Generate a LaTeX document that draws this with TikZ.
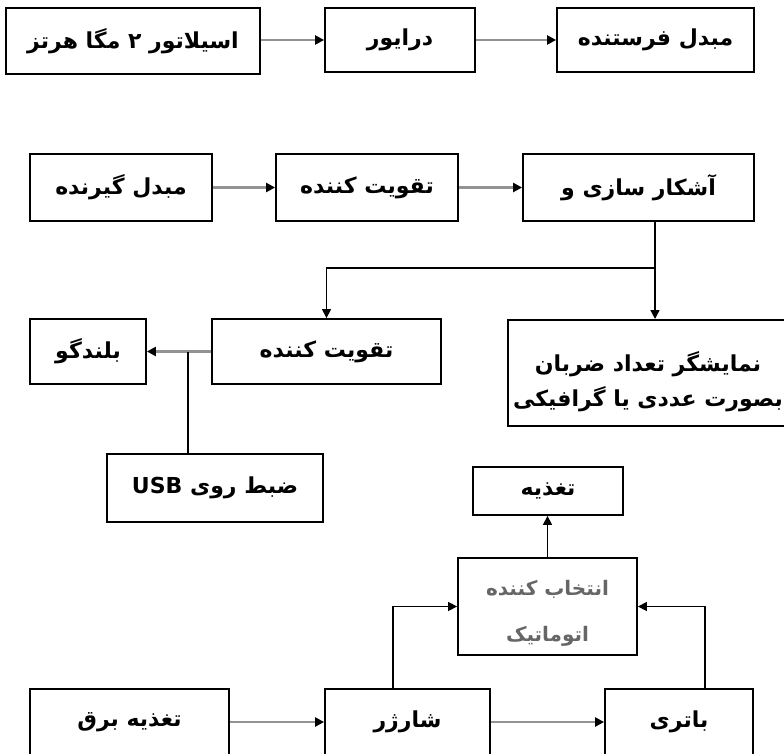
\documentclass[tikz,border=0pt]{standalone}
\usepackage{fontspec}
\usetikzlibrary{arrows.meta,calc}
\TeXXeTstate=1
\newfontfamily\fa[Script=Arabic]{DejaVu Sans}
\tikzset{
  box/.style={draw, line width=1.8pt, inner sep=0pt, font=\fa\bfseries\fontsize{22}{26}\selectfont},
  garr/.style={draw=gray!85, line width=2.6pt, -{Triangle[length=9pt,width=9pt,color=black]}},
  barr/.style={line width=1.4pt, -{Triangle[length=9pt,width=9pt]}},
  bline/.style={line width=1.4pt},
}
\begin{document}
\begin{tikzpicture}[x=1pt,y=-1pt]
\clip (0,0) rectangle (784,754);
\fill[white] (0,0) rectangle (784,754);

% row 1
\node[box, minimum width=254pt, minimum height=66pt] (osc) at (133,41) {\beginR اسیلاتور ۲ مگا هرتز\endR};
\node[box, minimum width=150pt, minimum height=64pt] (drv) at (400,40) {\beginR درایور\endR};
\node[box, minimum width=197pt, minimum height=64pt] (tx) at (655.5,40) {\beginR مبدل فرستنده\endR};
\draw[garr] (osc.east |- drv.west) -- (drv.west);
\draw[garr] (drv) -- (tx);

% row 2
\node[box, minimum width=182pt, minimum height=67pt] (rx) at (121,187.5) {\beginR مبدل گیرنده\endR};
\node[box, minimum width=182pt, minimum height=67pt] (amp1) at (367,187.5) {\beginR تقویت کننده\endR};
\node[box, minimum width=231pt, minimum height=67pt] (det) at (638.5,187.5) {\beginR آشکار سازی و\endR};
\draw[garr] (rx) -- (amp1);
\draw[garr] (amp1) -- (det);

% row 3
\node[box, minimum width=116pt, minimum height=65pt] (spk) at (88,351.5) {\beginR بلندگو\endR};
\node[box, minimum width=229pt, minimum height=65pt] (amp2) at (326.5,351.5) {\beginR تقویت کننده\endR};
\node[box, minimum width=300pt, minimum height=106pt, anchor=north west] (disp) at (507,319) {};
\node[inner sep=0pt, align=center, font=\fa\bfseries\fontsize{22}{35}\selectfont] (disptext) at (648,382) {\beginR نمایشگر تعداد ضربان\endR\\\beginR بصورت عددی یا گرافیکی\endR};

\coordinate (split) at (655,268);
\draw[bline] (split |- det.south) -- (split);
\draw[barr] (split) -| (amp2.north);
\draw[barr] (split) -- (split |- disp.north);

\draw[garr] (amp2) -- (spk);
\node[box, minimum width=216pt, minimum height=68pt] (usb) at (215,488) {\beginR ضبط روی \beginL USB\endL\endR};
\coordinate (tap) at (188,351.5);
\draw[bline] (tap) -- (tap |- usb.north);

% power part
\node[box, minimum width=150pt, minimum height=48pt] (pwr) at (548,491) {\beginR تغذیه\endR};
\node[box, minimum width=179pt, minimum height=97pt] (sel) at (547.5,606.5) {};
\node[inner sep=0pt, align=center, font=\fa\bfseries\fontsize{20}{46}\selectfont, text=black!60] (seltext) at (547.5,613) {\beginR انتخاب کننده\endR\\\beginR اتوماتیک\endR};
\draw[barr] (sel.north) -- (sel.north |- pwr.south);

\node[box, minimum width=199pt, minimum height=66pt] (mains) at (129.5,722) {\beginR تغذیه برق\endR};
\node[box, minimum width=165pt, minimum height=66pt] (chg) at (407.5,722) {\beginR شارژر\endR};
\node[box, minimum width=148pt, minimum height=66pt] (bat) at (679,722) {\beginR باتری\endR};
\draw[garr] (mains) -- (chg);
\draw[garr] (chg) -- (bat);

\coordinate (cl) at (393,606.5);
\coordinate (cr) at (705,606.5);
\draw[barr] (cl |- chg.north) |- (sel.west);
\draw[barr] (cr |- bat.north) |- (sel.east);
\end{tikzpicture}
\end{document}
